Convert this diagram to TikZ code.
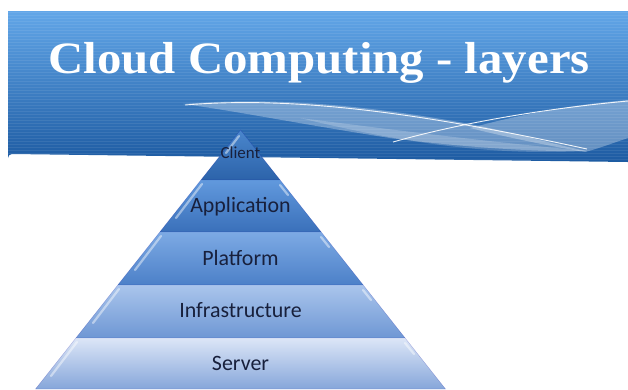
\documentclass[tikz,border=0pt]{standalone}
\usepackage{fontspec}
\setmainfont{Liberation Serif}
\newfontfamily\labelfont{Carlito}
\definecolor{bTop}{HTML}{62A6E8}
\definecolor{bMid}{HTML}{3F84D0}
\definecolor{bBot}{HTML}{1D5BA2}
\definecolor{cTop}{HTML}{4A86CC}\definecolor{cBot}{HTML}{2C63AA}
\definecolor{aTop}{HTML}{6199DD}\definecolor{aBot}{HTML}{3A70BA}
\definecolor{pTop}{HTML}{7DAAE4}\definecolor{pBot}{HTML}{4C80C8}
\definecolor{iTop}{HTML}{AAC5EC}\definecolor{iBot}{HTML}{6E97D4}
\definecolor{sTop}{HTML}{DCE6F7}\definecolor{sBot}{HTML}{86A6DA}
\definecolor{txt}{HTML}{18203C}
\begin{document}
\begin{tikzpicture}[x=1bp,y=-1bp,
  lbl/.style={text=txt, font=\labelfont\fontsize{22}{22}\selectfont, anchor=base, inner sep=0pt},
  layeredge/.style={draw=black!40!blue, draw opacity=0.25, line width=0.4},
  bevel/.style={white, opacity=0.45, line width=2.2, line cap=round},
  wline/.style={white, opacity=0.9, line width=0.9},
  swoosh/.style={fill=white, fill opacity=0.3}]
\useasboundingbox (0,0) rectangle (628,389);
% banner
\begin{scope}
  \path[clip] (628,11) -- (12,11) arc[start angle=90,end angle=180,radius=4] -- (8,158) arc[start angle=180,end angle=270,radius=4] -- (628,162) -- cycle;
  \shade[top color=bTop, middle color=bMid, bottom color=bBot] (0,11) rectangle (628,162);
  \foreach \yy in {12,15,...,162} \draw[white, opacity=0.08, line width=0.8] (0,\yy) -- (628,\yy);
  % swooshes
  \path[swoosh] (183,104) .. controls (270,97) and (360,104) .. (470,124) .. controls (520,134) and (560,146) .. (587,151)
     .. controls (540,152) and (470,148) .. (390,138) .. controls (300,124) and (230,110) .. (183,104) -- cycle;
  \path[swoosh, fill opacity=0.2] (300,118) .. controls (380,128) and (470,140) .. (587,151) .. controls (520,154) and (440,152) .. (300,118) -- cycle;
  \path[swoosh] (470,128) .. controls (530,112) and (580,104) .. (628,100) -- (628,138) .. controls (610,144) and (600,148) .. (585,152) .. controls (550,146) and (510,138) .. (470,128) -- cycle;
  \draw[wline] (185,105) .. controls (280,97) and (400,108) .. (587,149);
  \draw[wline] (393,142) .. controls (450,126) and (530,110) .. (628,101);
\end{scope}
\node[text=white, font=\fontsize{45}{45}\selectfont\bfseries, anchor=base, inner sep=0pt, xscale=1.09] (title) at (319,73) {Cloud Computing - layers};
% pyramid layers
\coordinate (apex) at (240.5,130);
\shade[top color=cTop, bottom color=cBot, layeredge] (apex) -- (280.1,180) -- (200.9,180) -- cycle;
\shade[top color=aTop, bottom color=aBot, layeredge] (200.9,180) -- (280.1,180) -- (321.2,232) -- (159.8,232) -- cycle;
\shade[top color=pTop, bottom color=pBot, layeredge] (159.8,232) -- (321.2,232) -- (363.2,285) -- (117.8,285) -- cycle;
\shade[top color=iTop, bottom color=iBot, layeredge] (117.8,285) -- (363.2,285) -- (405.1,338) -- (75.9,338) -- cycle;
\shade[top color=sTop, bottom color=sBot, layeredge] (75.9,338) -- (405.1,338) -- (445.5,389) -- (35.5,389) -- cycle;
% bevel highlights (close to the slanted edges)
\draw[bevel] (239,136) -- (226,153);
\draw[bevel] (202,184) -- (176,218);
\draw[bevel] (280,185) -- (288,195);
\draw[bevel] (161,236) -- (135,270);
\draw[bevel] (321,237) -- (329,247);
\draw[bevel] (119,289) -- (93,323);
\draw[bevel] (363,290) -- (371,300);
\draw[bevel] (77,342) -- (51,376);
\draw[bevel] (405,343) -- (414,354);
% labels
\node[lbl, font=\labelfont\fontsize{17}{17}\selectfont] (client) at (240.5,158) {Client};
\node[lbl] (application) at (240.5,212) {Application};
\node[lbl] (platform) at (240.5,265) {Platform};
\node[lbl] (infrastructure) at (240.5,317) {Infrastructure};
\node[lbl] (server) at (240.5,370) {Server};
\end{tikzpicture}
\end{document}
